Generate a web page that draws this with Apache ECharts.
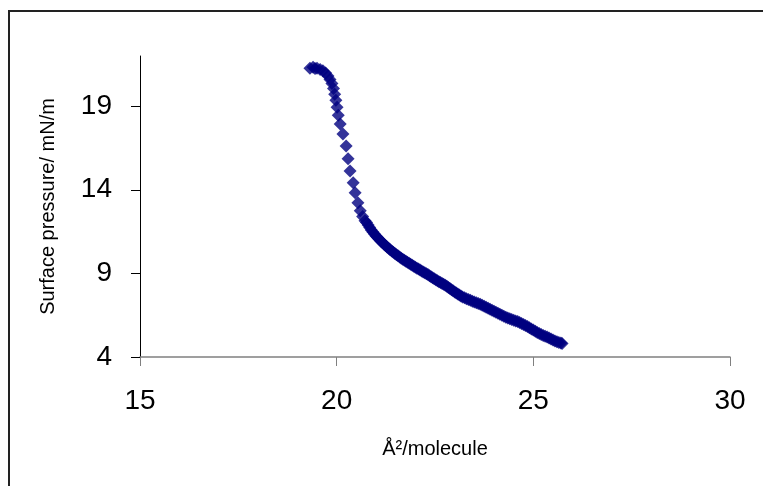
<!DOCTYPE html>
<html>
<head>
<meta charset="utf-8">
<script src="https://cdn.jsdelivr.net/npm/echarts@6/dist/echarts.min.js"></script>
<style>
  html, body { margin: 0; padding: 0; background: #fff; }
  #chart { width: 763px; height: 486px; }
</style>
</head>
<body>
<div id="chart"></div>
<script>
// area per molecule (Å²)
const areaValues = [
  19.32, 19.40, 19.45, 19.50, 19.58, 19.65, 19.72, 19.78, 19.83, 19.88,
  19.92, 19.95, 19.98, 20.01, 20.04, 20.09, 20.16, 20.24, 20.29, 20.34,
  20.42, 20.47, 20.54, 20.60, 20.66, 20.72,
  20.76, 20.80, 20.84, 20.88, 20.92, 20.96, 21.00, 21.04, 21.08, 21.12,
  21.16, 21.20, 21.24, 21.28, 21.32, 21.36, 21.40, 21.44, 21.48, 21.52,
  21.56, 21.60, 21.64, 21.68, 21.72, 21.76, 21.80, 21.84, 21.88, 21.92,
  21.96, 22.00, 22.04, 22.08, 22.12, 22.16, 22.20, 22.24, 22.28, 22.32,
  22.36, 22.40, 22.44, 22.48, 22.52, 22.56, 22.60, 22.64, 22.68, 22.72,
  22.76, 22.80, 22.84, 22.88, 22.92, 22.96, 23.00, 23.04, 23.08, 23.12,
  23.16, 23.20, 23.25, 23.30, 23.35, 23.40, 23.45, 23.50, 23.55, 23.60,
  23.65, 23.70, 23.75, 23.80, 23.85, 23.90, 23.95, 24.00, 24.05, 24.10,
  24.15, 24.20, 24.25, 24.30, 24.35, 24.40, 24.45, 24.50, 24.55, 24.60,
  24.65, 24.70, 24.75, 24.80, 24.85, 24.90, 24.95, 25.00, 25.05, 25.10,
  25.15, 25.20, 25.25, 25.30, 25.35, 25.40, 25.45, 25.50, 25.55, 25.60,
  25.65, 25.70, 25.73
];
// surface pressure (mN/m)
const pressureValues = [
  21.26, 21.32, 21.25, 21.26, 21.20, 21.12, 20.98, 20.80, 20.60, 20.35,
  20.05, 19.72, 19.35, 18.94, 18.45, 17.93, 17.33, 16.62, 15.85, 15.13,
  14.42, 13.82, 13.23, 12.75, 12.40, 12.15,
  12.05, 11.90, 11.74, 11.60, 11.47, 11.35, 11.24, 11.14, 11.04, 10.94,
  10.85, 10.76, 10.67, 10.58, 10.50, 10.42, 10.34, 10.26, 10.19, 10.12,
  10.05, 9.98, 9.91, 9.84, 9.78, 9.72, 9.66, 9.60, 9.54, 9.48,
  9.42, 9.37, 9.31, 9.26, 9.20, 9.15, 9.09, 9.04, 8.98, 8.93,
  8.86, 8.80, 8.74, 8.68, 8.62, 8.56, 8.50, 8.45, 8.40, 8.35,
  8.29, 8.23, 8.16, 8.09, 8.02, 7.96, 7.89, 7.83, 7.77, 7.71,
  7.65, 7.59, 7.54, 7.49, 7.44, 7.39, 7.34, 7.29, 7.25, 7.20,
  7.15, 7.09, 7.03, 6.97, 6.91, 6.85, 6.79, 6.73, 6.67, 6.61,
  6.55, 6.49, 6.43, 6.38, 6.33, 6.28, 6.24, 6.20, 6.16, 6.12,
  6.07, 6.01, 5.95, 5.89, 5.82, 5.75, 5.68, 5.61, 5.54, 5.47,
  5.41, 5.35, 5.29, 5.24, 5.19, 5.13, 5.07, 5.01, 4.96, 4.91,
  4.87, 4.83, 4.80
];
const yTicks = [4, 9, 14, 19];

const points = areaValues.map((x, i) => [x, pressureValues[i]]);

const myChart = echarts.init(document.querySelector("#chart"));
const option = {
  animation: false,
  backgroundColor: "#fff",
  textStyle: { fontFamily: "Liberation Sans, Arial, sans-serif" },
  graphic: [
    {
      type: "rect",
      shape: { x: 9, y: 11, width: 1500, height: 900 },
      style: { fill: "none", stroke: "#222", lineWidth: 2 },
      silent: true,
    },
  ],
  grid: { left: 140, right: 33, top: 56, bottom: 129 },
  xAxis: {
    type: "value",
    min: 15,
    max: 30,
    interval: 5,
    name: "Å²/molecule",
    nameLocation: "middle",
    nameGap: 82,
    nameTextStyle: { fontSize: 20, color: "#000" },
    splitLine: { show: false },
    axisLine: { lineStyle: { color: "#808080", width: 1.5 } },
    axisTick: { length: 9, lineStyle: { color: "#808080" } },
    axisLabel: { fontSize: 28, color: "#000", margin: 30 },
  },
  yAxis: {
    type: "value",
    min: 4,
    max: 22,
    name: "Surface pressure/ mN/m",
    nameLocation: "middle",
    nameGap: 82,
    nameTextStyle: { fontSize: 20, color: "#000" },
    splitLine: { show: false },
    axisLine: { show: true, lineStyle: { color: "#000", width: 1 } },
    axisTick: { show: true, length: 9, customValues: yTicks, lineStyle: { color: "#000" } },
    axisLabel: { fontSize: 28, color: "#000", margin: 28, customValues: yTicks },
  },
  series: [
    {
      type: "scatter",
      symbol: "diamond",
      symbolSize: 13,
      itemStyle: { color: "#000080" },
      data: points,
    },
  ],
};
myChart.setOption(option);
</script>
</body>
</html>
